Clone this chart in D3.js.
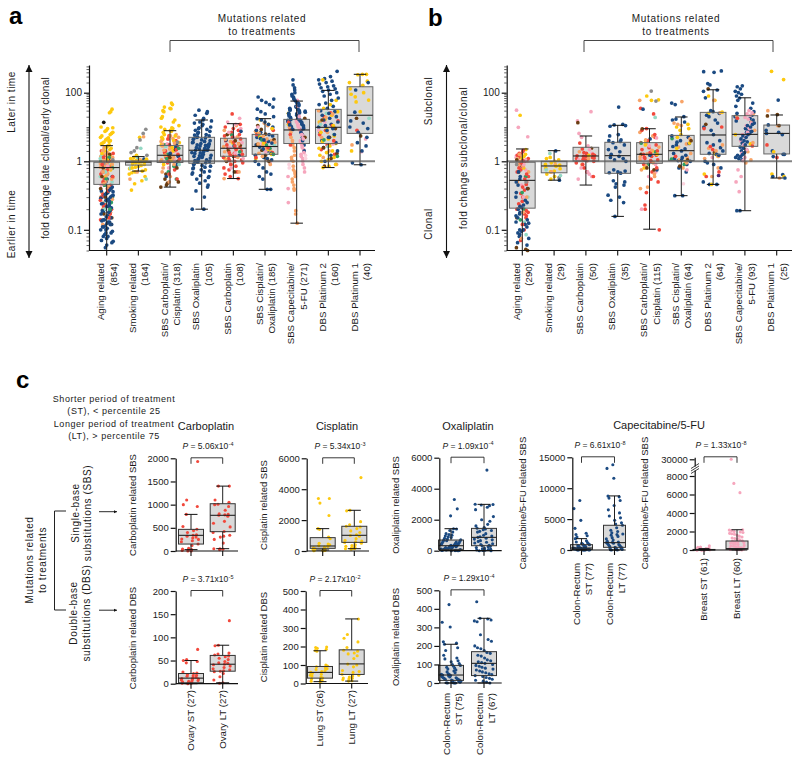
<!DOCTYPE html>
<html><head><meta charset="utf-8">
<script src="https://cdn.jsdelivr.net/npm/d3@7"></script>
<style>html,body{margin:0;background:#fff}svg{display:block;font-family:"Liberation Sans",Arial,sans-serif}</style>
</head><body><svg id="c" width="800" height="764"></svg>
<script>
const COLORS={navy:"#1b4a82",gold:"#fdc90f",red:"#f2483c",orange:"#f8a468",pink:"#f6a6bd",brown:"#6a3d12",green:"#2f9e62",teal:"#93d8c4",gray:"#8c8c8c",black:"#111",lpink:"#fbd3de",purple:"#4a2a7a"};

const aCats=[["Aging related","(854)"],["Smoking related","(164)"],["SBS Carboplatin/","Cisplatin (318)"],["SBS Oxaliplatin","(105)"],["SBS Carboplatin","(108)"],["SBS Cisplatin/","Oxaliplatin (185)"],["SBS Capecitabine/","5-FU (271)"],["DBS Platinum 2","(160)"],["DBS Platinum 1","(40)"]];
const bCats=[["Aging related","(290)"],["Smoking related","(29)"],["SBS Carboplatin","(50)"],["SBS Oxaliplatin","(35)"],["SBS Carboplatin/","Cisplatin (115)"],["SBS Cisplatin/","Oxaliplatin (64)"],["DBS Platinum 2","(64)"],["SBS Capecitabine/","5-FU (93)"],["DBS Platinum 1","(25)"]];
// low whisker, q1, median, q3, high whisker
const aBoxes=[[.05,.46,.81,.97,2.86],[.72,.88,.97,1,1.37],[.42,.96,1.5,2.9,7.8],[.2,.935,2.1,5,16],[.56,1.4,2.4,4.7,12.5],[.39,1.6,2.7,6.1,17.5],[.125,3.3,8.2,16.7,57],[.81,3.3,9.8,32.7,117],[.89,6.5,22,150,350]];
const bBoxes=[[.05,.207,.527,.97,2.29],[.53,.68,.855,1,2.04],[.45,1.02,1.43,2.56,5.47],[.157,.667,1.46,3.58,11.2],[.102,.935,1.6,3.5,8.9],[.315,1.05,2.04,5.7,19.6],[.46,1.6,5.85,26.7,122],[.19,2.73,6.1,21.4,71],[.57,1.64,6.5,11.4,22.4]];

const aPts0=[["navy",[.055,.06,.065,.068,.07,.075,.08,.08,.085,.09,.09,.095,.1,.1,.105,.11,.11,.115,.12,.12,.125,.13,.13,.135,.14,.14,.15,.15,.155,.16,.165,.17,.175,.18,.18,.19,.19,.2,.2,.21,.21,.22,.22,.23,.24,.24,.25,.25,.26,.27,.27,.28,.29,.3,.3,.31,.32,.33,.34,.35,.36,.37,.38,.4,.42,.45,.5,.55,.6]],["red",[.14,.15,.17,.2,.22,.24,.27,.3,.33,.37,.4,.45,.5,.55,.6,.65,.7,.75,.8,.85,.9,.95,1,1.1,1.2,1.3,1.5,1.7,2]],["orange",[.12,.15,.16,.18,.2,.25,.28,.3,.35,.4,.43,.47,.5,.52,.55,.58,.6,.63,.66,.7,.72,.75,.78,.8,.82,.85,.88,.9,.92,.95,.97,1,1.05,1.1,1.15,1.2,1.3,1.4,1.6,1.8,2.1,2.5]],["gold",[.6,.75,.9,1.1,1.3,1.5,1.7,1.9,2,2.2,2.4,2.6,2.8,3,3.2,3.4,3.6,3.8,4,4.2,4.5,4.8,5,5.5,6,6.5,7,7.5,8,9,9.5,10,26,28,33]],["teal",[.2,.26,.35,.5,.6,.7,.8,.9,1.2,1.5]],["green",[.2,.25,.3,.45,.55,.65,.8,1,1.3]],["brown",[.12,.15,.17,.3,.4,.6,.8,1.1,1.6]],["gray",[.4,.7,.9,1.1]],["pink",[.45,.7,.85,1.05,1.4,1.8]],["black",[13.7]]];
const aPts1=[["gold",[.38,.47,.52,.6,.65,.68,.7,.72,.75,.78,.8,.82,.85,.87,.9,.92,.95,.97,1,1,1.03,1.05,1.1,1.15,1.2,1.3,1.5,5]],["gray",[1.5,1.8,2,2.5,4.2,6.5,8.6]],["orange",[.55,.7,1.1,5.2]],["teal",[.55,.8,1.3,2.4]],["navy",[1.15]]];
const aPts2=[["gold",[50,45,38,35,34,30,28,16,18,20,14,11,10,9.5,9,8.5,8,7.5,7,6,5.5,5,4.5,4,3.5,3,2.5,2,1.5,1.2,1,.9]],["orange",[.5,.6,.7,.8,.9,1,1.1,1.2,1.3,1.5,1.7,1.9,2.1,2.3,2.5,2.8,3.1,3.4,3.8,4.2,4.6,5,5.5,6]],["red",[.55,.65,.75,.85,.95,1.05,1.15,1.3,1.45,1.6,1.8,2,2.2,2.5,3,3.5,4,4.5,5.5]],["brown",[.42,.45,.48,.5,.55,.65,.8,1,1.3,2.2]],["green",[.55,.7,.85,1,1.2,1.6,2.4,3]],["navy",[.6,.9,1.4,1.7,2.6,3.3]],["pink",[.8,1.1,1.9,3.2,4.4]],["teal",[.9,2.7]],["gray",[1.4,3.6]]];
const aPts3=[["navy",[.2,.2,.3,.37,.42,.45,.48,.52,.55,.58,.6,.62,.65,.68,.7,.72,.75,.78,.8,.82,.85,.87,.9,.92,.95,.97,1,1,1.05,1.1,1.15,1.2,1.25,1.3,1.35,1.4,1.45,1.5,1.55,1.6,1.7,1.75,1.8,1.9,2,2.1,2.1,2.2,2.3,2.4,2.5,2.6,2.7,2.8,2.9,3,3.1,3.2,3.3,3.5,3.6,3.8,4,4.2,4.4,4.6,4.8,5,5.2,5.5,5.8,6,6.5,7,7.5,8,8.5,9,9.5,10,11,12,13,14,15,16,18,22,25,28,31]]];
const aPts4=[["red",[.56,.6,.65,.7,.75,.8,.85,.9,.95,1,1.05,1.1,1.2,1.3,1.4,1.5,1.6,1.7,1.8,2,2.2,2.4,2.6,2.8,3,3.3,3.6,4,4.5,5,5.5,6,7,8,9,10,12,24]],["orange",[.56,.7,.9,1.1,1.3,1.6,1.9,2.3,2.7,3.2,3.8,4.4,5.2,6.5,8,11]],["pink",[.8,1.2,1.7,2.5,3.5,5,7,9,12,14,18]],["brown",[.7,1,1.4,2.1,3,4,6]],["navy",[1.5,2.8,4.2,7.5]],["gold",[3.4,1.2]],["green",[1.9,5.8]]];
const aPts5=[["navy",[.39,.39,.55,.6,.65,.7,.8,.9,1,1.1,1.2,1.3,1.5,1.7,2,2.3,2.6,3,3.4,3.8,4.2,4.6,5,5.5,6,7,8,10,12,14,16,17.5,20,24,28,33,38,45,52,60,75,65]],["orange",[.9,1.1,1.4,1.7,2,2.4,2.8,3.2,3.6,4,4.5,5.5,6.5,7.5,9,11,13]],["gold",[1.2,1.6,2.2,3.4,5,7,9,12,16]],["red",[1.3,1.8,2.5,3.6,4.8,6,8]],["brown",[1,1.5,2.1,3.1,4.3,6.2,8.5,11]],["green",[1.6,2.4,3,4.2,5.8]],["pink",[.95,1.9,3.3,10]],["teal",[2.9]]];
const aPts6=[["navy",[2,3,4,5,6,7,8,9,10,11,12,13,14,15,16,17,18,20,22,24,26,28,30,32,34,36,38,40,42,45,48,50,52,55,58,60,65,70,75,80,90,100,120,140,170,240,8.5,9.5,10.5,11.5,12.5,13.5,14.5,15.5,16.5,17.5,19,21,23,25,27,29,31,33,35]],["pink",[.25,.4,.6,.7,.8,.9,1,1.2,1.4,1.6,1.8,2,2.2,2.5,2.8,3.1,3.5,4,4.5,5,5.5,6,6.5,7,8,9,10,11,12,14,16,20,25,30,40,60]],["orange",[.125,.19,.17,.38,.4,.45,.5,.55,.6,.66,.7,.75,.85,1,1.1,1.3,1.5,2,2.5,3,3.3,4,5,7,10]],["lpink",[.8,.9,1.2,1.5]],["red",[3,6,9,14]],["gold",[12,25]],["brown",[5,18]]];
const aPts7=[["navy",[1,1.5,2,2.5,3,3.5,4,5,6,7,8,9,10,11,12,14,16,18,20,22,25,28,30,35,40,45,50,60,70,80,90,100,110,120,130,140,150,160,180,200,220,240,260,300,430]],["gold",[.81,.85,.9,1,1.1,1.3,1.5,1.8,2,2.4,2.8,3.3,3.8,4.5,5.5,7,9,11,14,17,22,28,35,45,60,240]],["red",[1.1,1.6,2.2,3,4,6,8,11,15,20,26]],["orange",[.9,1.3,2,3.5,5,7,10,13,19,24,30]],["brown",[.85,1.2,1.7,2.5,5,9,16]],["teal",[2.7,6,12,25]],["pink",[3.2,8,14,22]],["green",[1.4,4.2]]];
const aPts8=[["gold",[350,350,340,219,200,165,130,100,90,76,61,54,28,2]],["navy",[.89,.95,2,2.8,3.5,5,7,9,10,13,15,27,200,120]],["teal",[18]],["brown",[18,5.5]],["orange",[3]],["pink",[1.9,4.5]],["red",[8]]];

const bPts0=[["navy",[.06,.065,.075,.08,.085,.09,.095,.1,.1,.11,.12,.125,.13,.14,.15,.16,.17,.18,.2,.21,.22,.23,.25,.27,.3,.35,.4,.45,.5,.55,.6,.7,.85,1]],["red",[.07,.1,.12,.15,.16,.17,.18,.19,.2,.22,.24,.26,.3,.34,.38,.42,.46,.5,.55,.6,.65,.7,.75,.8,.85,.9,.95,1,1.05,1.1,1.15,1.2,1.3,1.4,1.5,1.6,1.7,1.9,2.1]],["orange",[.075,.12,.18,.3,.5,.7,.9,1,1.2,1.4,1.6,.85]],["pink",[.3,.45,.6,.75,.9,1,1.1,1.3,1.5,5.2,9.8,31]],["gold",[22,.8,1.2,1.6,2.2,1.4]],["brown",[.05,.052,.055,.15,.4,.7,1.1]],["green",[.14,.2,.35,.6]],["teal",[.085,.13,.3]],["gray",[.5,.9]]];
const bPts1=[["gold",[.55,.6,.65,.7,.72,.78,.8,.85,.88,.9,.95,1,1.1,1.2,1.3]],["teal",[.62,.75,1.7]],["navy",[2,.53]],["orange",[.7,.9]],["gray",[.58]]];
const bPts2=[["red",[.6,.7,.8,.9,.95,1,1.05,1.1,1.15,1.2,1.25,1.3,1.35,1.4,1.45,1.5,1.6,1.7,1.8,2.3,3.4]],["pink",[.55,.6,.65,.7,.8,1.1,1.7,2.2,2.8,5,6.5,15,28]],["orange",[1.2,.9,1.9]],["brown",[13.4,2.4]],["gold",[1.5]]];
const bPts3=[["navy",[.157,.25,.27,.3,.32,.42,.45,.47,.5,.52,.67,.68,.7,.72,.75,1,1.1,1.2,1.3,1.4,1.6,1.9,2.2,2.5,3,3.5,3.8,4,4.2,5.5,6,11,11.5,12,10.5,38]]];
const bPts4=[["red",[.1,.35,.55,.5,.2,.23,.7,.8,.9,1,1.05,1.1,1.2,1.3,1.4,1.5,1.6,1.7,1.8,2,2.2,2.5,3,3.5,4,5,6,8,9,24,35]],["orange",[.4,.42,.6,.65,.75,.85,.95,1.15,1.35,1.65,2.1,2.6,3.2,4.2,5.5,7,60]],["gold",[80,60,62,4,3,2,1.6,.8]],["gray",[112,57]],["navy",[33,4.5,1.5,.75]],["pink",[.2,.6,.7,.9,1.25,1.8,2.8,4.8]],["green",[3.4,.9,1.9]],["teal",[19]],["brown",[8.9,.8,.75,1.6]]];
const bPts5=[["navy",[.315,.315,.7,.8,.9,1,1.05,1.1,1.2,1.3,1.5,1.7,2,2.3,2.7,3,3.3,3.6,4,5,5.5,14,16,17,20,50,45]],["orange",[.8,.95,1.1,1.3,1.7,2.6,3.2,4.5,12,11,13,55]],["gold",[1,1.2,2.4,3.4,5,6,9,10,8,12]],["green",[1.15,.9,4.6]],["red",[1.4]],["lpink",[.47]],["pink",[.75]],["brown",[.85,1.1,4]]];
const bPts6=[["navy",[.46,.46,.5,.8,.9,.95,1,1.5,1.6,1.7,2,2.5,3,3.5,4,6,8,10,13,16,20,22,25,28,30,110,120,170,420,440,400,186,71]],["orange",[.8,.6,1.2,1.4,2,2.4,3,26,60]],["gold",[.46,.65,1.4,1.6,25,27,60,80]],["red",[.6,.7,2.2,2.7,9,10]],["brown",[1.8,130,12]],["purple",[.62]],["pink",[1.3]]];
const bPts7=[["navy",[.19,.19,1.1,1.2,1.3,1.4,1.5,1.6,1.8,2,2.2,2.4,2.6,3,3.4,3.7,4,4.5,5,5.5,6,6.5,7,7.5,8,9,10,11,12,13,14,15,16,18,20,22,25,28,35,40,50,60,70,80,90,100,110,130,150,160]],["pink",[.36,.5,.6,.75,1.05,1.3,1.7,2.2,3,4,5,6,7,9,11,13,17,19,22,24,26,30]],["orange",[.95,1.1,1.9,3.5,8,14,21,25]],["gold",[3.2,6]],["red",[2.8,18]]];
const bPts8=[["gold",[.6,.65,1.9,245,430]],["navy",[1.37,1.6,.57,.6,.64,1.6,2,6,7,6.5,11.5,61,8]],["orange",[30,11,.57]],["brown",[21,23,11]],["red",[3,1.3]]];
const aPoints=[aPts0,aPts1,aPts2,aPts3,aPts4,aPts5,aPts6,aPts7,aPts8];
const bPoints=[bPts0,bPts1,bPts2,bPts3,bPts4,bPts5,bPts6,bPts7,bPts8];

const carboSbsST=[1930,1100,1000,960,790,530,470,440,400,350,340,320,300,280,260,250,220,200,150,120,60,40,30,20,10,0,0];
const carboSbsLT=[1400,1400,1100,1050,1010,1000,960,880,800,790,780,770,750,640,600,520,420,400,340,320,300,250,170,50,50,40,30];
const carboDbsST=[74,52,50,48,45,25,23,22,20,18,17,16,14,12,11,10,9,8,7,6,5,4,3,2,1,1,0];
const carboDbsLT=[136,83,82,66,64,62,60,58,55,52,48,45,44,42,41,38,35,32,30,28,27,26,22,15,8,2,1];
const cisSbsST=[3400,3400,3100,2300,1447,1400,900,800,500,450,400,350,300,250,200,150,120,100,80,65,60,50,40,30,20,10];
const cisSbsLT=[4750,2640,2600,1900,1700,1600,1550,1450,1300,1200,1050,1000,950,800,700,650,600,550,500,400,350,300,250,200,150,150,120];
const cisDbsST=[197,195,190,185,178,175,100,95,90,85,80,75,70,65,60,55,50,45,40,35,30,25,20,15,12,10];
const cisDbsLT=[349,265,245,225,195,180,175,165,160,150,135,105,100,90,70,65,60,50,45,40,35,30,28,25,20,15,13];
const oxSbsST=[3300,2700,2250,1420,1400,1300,1200,1100,1050,1000,950,900,850,800,750,700,680,650,620,600,560,520,500,470,450,420,400,380,350,330,320,300,280,260,240,220,200,180,160,140,120,100,90,80,70,60,50,40,30,20,15,10,5,0,0];
const oxSbsLT=[5200,3000,2980,2950,2900,2800,2650,2200,2000,1900,1700,1600,1500,1450,1400,1350,1300,1250,1200,1100,1000,950,900,860,800,750,700,650,600,550,500,450,400,350,320,280,250,200,150,120,100,80,50,30,10,0,0];
const oxDbsST=[423,328,302,222,215,209,190,175,150,135,130,120,115,105,100,95,90,85,80,75,70,65,60,55,50,47,45,43,40,38,35,32,30,28,25,22,20,18,16,14,12,10,8,6,4,2,1,0,0,0];
const oxDbsLT=[438,349,345,340,335,330,260,235,225,200,190,185,175,165,160,150,145,135,125,120,115,110,106,100,95,90,85,80,75,70,65,60,55,50,45,40,35,30,25,20,15,10,5,0];
const capeST=[8000,6700,4800,3500,2700,2500,2300,2100,1836,1500,1300,1200,1100,1000,950,864,800,700,650,600,550,500,450,400,350,324,300,280,260,240,220,200,180,160,140,120,108,90,80,70,60,50,40,30,20,15,10,5,0,0];
const capeLT=[13800,13200,11600,8750,8600,8400,8000,7200,6500,6000,5500,5200,4800,4400,4200,4000,3600,3200,3000,2800,2600,2500,2400,2200,2000,1800,1600,1400,1300,1250,1190,1100,1000,900,800,700,600,500,432,350,300,250,200,150,100,80,50,20,0];
const breastST=[450,320,280,250,200,180,160,150,120,100,80,70,60,50,40,30,30,25,20,20,15,10,10,5,5,0,0];
const breastLT=[30000,7200,6200,2190,2150,2100,2000,1950,1900,1800,1750,1700,1600,1500,1400,1300,1250,1200,1100,1000,950,900,850,800,750,700,650,600,500,450,400,350,300,250,200,180,150,120,100,80,60,40,20,0];

const logMajor=[.1,1,100];
const logMinor=[.05,.06,.07,.08,.09,.2,.3,.4,.5,.6,.7,.8,.9,2,3,4,5,6,7,8,9,10,20,30,40,50,60,70,80,90,200,300,400,500,600];

const svg=d3.select("#c");
const INK="#1a1a1a";
function text(x,y,s,o={}){
  const t=svg.append("text").attr("x",x).attr("y",y).text(s)
    .attr("font-size",o.size||10).attr("fill",o.fill||INK).attr("text-anchor",o.anchor||"middle");
  if(o.rot!==undefined)t.attr("transform",`rotate(${o.rot},${x},${y})`);
  if(o.ls)t.attr("letter-spacing",o.ls);
  if(o.bold)t.attr("font-weight","bold");
  return t;
}
function poly(pts,w=1,c="#222"){
  svg.append("path").attr("d",d3.line()(pts)).attr("fill","none").attr("stroke",c).attr("stroke-width",w);
}
function arrow(x1,y1,x2,y2,size=6,w=1.1){
  poly([[x1,y1],[x2,y2]],w,"#111");
  const a=Math.atan2(y2-y1,x2-x1),s=size;
  const p=[[x2,y2],[x2-s*Math.cos(a)+s*.5*Math.sin(a),y2-s*Math.sin(a)-s*.5*Math.cos(a)],[x2-s*Math.cos(a)-s*.5*Math.sin(a),y2-s*Math.sin(a)+s*.5*Math.cos(a)]];
  svg.append("path").attr("d",d3.line()(p)+"Z").attr("fill","#111");
}
function drawBoxes(x,y,cats,boxes,points,o){
  const g=svg.append("g");
  const bw=o.bw,cap=o.cap;
  // box fill below the dots
  cats.forEach((c,i)=>{const [lo,q1,m,q3,hi]=boxes[i];
    g.append("rect").attr("x",x(c)-bw/2).attr("y",y(q3)).attr("width",bw).attr("height",Math.max(y(q1)-y(q3),.5)).attr("fill","#d9d9d9");
  });
  cats.forEach((c,i)=>{
    const flat=[];
    points[i].forEach(([col,vals])=>vals.forEach(v=>flat.push({col,v})));
    flat.forEach((d,k)=>{d.key=((k+1)*0.6180339887)%1;});
    flat.sort((a,b)=>a.key-b.key);
    // jitter comes from a fixed low-discrepancy sequence, not the data
    const w=o.jit[i]!==undefined?o.jit[i]:o.jit;
    g.selectAll(null).data(flat).join("circle")
      .attr("cx",(d,k)=>x(c)+(((k+1)*0.7548776662)%1-.5)*2*w)
      .attr("cy",d=>y(d.v)).attr("r",o.r)
      .attr("fill",d=>COLORS[o.color||d.col]);
  });
  cats.forEach((c,i)=>{const [lo,q1,m,q3,hi]=boxes[i];
    const X=x(c);
    g.append("rect").attr("x",X-bw/2).attr("y",y(q3)).attr("width",bw).attr("height",Math.max(y(q1)-y(q3),.5)).attr("fill","none").attr("stroke",o.boxStroke).attr("stroke-width",1);
    g.append("line").attr("x1",X-bw/2).attr("x2",X+bw/2).attr("y1",y(m)).attr("y2",y(m)).attr("stroke","#222").attr("stroke-width",1.1);
    [[lo,q1],[q3,hi]].forEach(([a,b])=>g.append("line").attr("x1",X).attr("x2",X).attr("y1",y(a)).attr("y2",y(b)).attr("stroke","#222").attr("stroke-width",1));
    [lo,hi].forEach(v=>g.append("line").attr("x1",X-cap/2).attr("x2",X+cap/2).attr("y1",y(v)).attr("y2",y(v)).attr("stroke","#111").attr("stroke-width",1));
  });
}
function leftAxis(x0,y,major,minor,fs,fmt){
  if(minor){
    svg.append("g").attr("transform",`translate(${x0},0)`).call(d3.axisLeft(y).tickValues(minor).tickSize(2.5).tickFormat("")).call(g=>{g.select(".domain").remove();g.selectAll("line").attr("stroke","#222").attr("stroke-width",.7);});
  }
  svg.append("g").attr("transform",`translate(${x0},0)`)
    .call(d3.axisLeft(y).tickValues(major).tickSizeInner(5).tickSizeOuter(0).tickPadding(2).tickFormat(fmt||(d=>String(d))))
    .call(g=>{g.selectAll("path,line").attr("stroke","#111").attr("stroke-width",1.2);
      g.selectAll("text").attr("font-size",fs).attr("font-family",null).attr("fill",INK);});
}
function bottomLine(x,x0,x1,yb,cats){
  poly([[x0,yb],[x1,yb]],1.2,"#111");
  cats.forEach(c=>poly([[x(c),yb],[x(c),yb+5]],1.1,"#111"));
}

// ---------- panels a, b ----------
function logPanel(P){
  const keys=P.cats.map(c=>c.join(" "));
  const x=d3.scalePoint().domain(keys).range(P.xr);
  const y=d3.scaleLog().domain([.05,.1,1,100,660]).range([250.5,229.8,161.3,92.7,65]);
  drawBoxes(x,y,keys,P.boxes,P.points,{bw:25.7,cap:12.5,r:1.85,jit:P.jit,boxStroke:"#666"});
  poly([[P.x0,y(1)],[P.x1,y(1)]],2,"rgba(90,90,90,.75)");
  leftAxis(P.x0,y,logMajor,logMinor,10);
  bottomLine(x,P.x0,P.x1,250.5,keys);
  keys.forEach((k,i)=>{
    text(x(k)-2.5,263,P.cats[i][0],{rot:-90,anchor:"end",size:9.7});
    text(x(k)+10,263,P.cats[i][1],{rot:-90,anchor:"end",size:9.7});
  });
}
logPanel({cats:aCats,boxes:aBoxes,points:aPoints,xr:[106.7,360],x0:89,x1:375,jit:[6.5,9.5,9.5,10,10,10,9,10,11]});
logPanel({cats:bCats,boxes:bBoxes,points:bPoints,xr:[522.3,776.7],x0:506.7,x1:792,jit:[6.5,9,10,10,10,10,10,10,11]});

text(9,24,"a",{anchor:"start",size:24,bold:true,fill:"#000"});
text(428,26,"b",{anchor:"start",size:24,bold:true,fill:"#000"});
text(16,388,"c",{anchor:"start",size:24,bold:true,fill:"#000"});

[[262,[170,359]],[676,[584,773]]].forEach(([cx,[l,r]])=>{
  text(cx,22,"Mutations related",{ls:.7});
  text(cx,35,"to treatments",{ls:.7});
  poly([[l,52],[l,40.5],[r,40.5],[r,52]],.9,"#333");
});
arrow(29,160,29,65,7);arrow(29,160,29,258,7);
arrow(446.5,160,446.5,65,7);arrow(446.5,160,446.5,258,7);
text(15,102,"Later in time",{rot:-90,ls:.5});
text(15,224,"Earlier in time",{rot:-90,ls:.5});
text(49,158,"fold change late clonal/early clonal",{rot:-90,ls:.25});
text(432,101,"Subclonal",{rot:-90,ls:.5});
text(432,224,"Clonal",{rot:-90,ls:.5});
text(467,158,"fold change subclonal/clonal",{rot:-90,ls:.6});

// ---------- panel c ----------
["Shorter period of treatment|399","(ST), < percentile 25|411","Longer period of treatment|424","(LT), > percentile 75|436"].forEach(s=>{
  const [t,yy]=s.split("|");text(114,+yy+3,t,{size:9,ls:.55});
});
text(206,430,"Carboplatin",{size:11});
text(337,430,"Cisplatin",{size:11});
text(468,430,"Oxaliplatin",{size:11});
text(659,429,"Capecitabine/5-FU",{size:11});

function pval(cx,yy,v,e){
  const t=text(cx,yy,"",{size:8.5});
  t.append("tspan").attr("font-style","italic").text("P");
  t.append("tspan").text(" = "+v+"x10");
  t.append("tspan").attr("dy",-3.5).attr("font-size",5.5).attr("dx",.5).text(e);
}
function cPanel(P){
  const x=d3.scalePoint().domain(P.cats).range(P.xr);
  drawBoxes(x,P.y,P.cats,P.boxes,P.points,{bw:P.bw||25,cap:P.cap||13,r:1.55,jit:P.jit||10,boxStroke:"#333",color:P.color});
  leftAxis(P.x0,P.y,P.ticks,null,9.5,P.fmt);
  const yb=P.y.range()[0];
  bottomLine(x,P.x0,P.x1,yb,P.cats);
  const t=P.y.range()[P.y.range().length-1];
  poly([[P.xr[0],t+5.5],[P.xr[0],t-.5],[P.xr[1],t-.5],[P.xr[1],t+5.5]],.9,"#222");
  pval(P.pc,t-9,P.p[0],P.p[1]);
  text(P.tx,P.tc,P.title,{rot:-90,size:9.5});
  if(P.labels) P.labels.forEach((l,i)=>l.forEach((s,j)=>{
    text(x(P.cats[i])+P.lb[j],P.ltop,s,{rot:-90,anchor:"end",size:9.7});
  }));
}
const groupsCarbo=["ST","LT"];
cPanel({cats:groupsCarbo,xr:[191,222.7],x0:175.7,x1:238,y:d3.scaleLinear().domain([0,2000]).range([551,458.3]),ticks:[0,500,1000,1500,2000],
  boxes:[[30,150,338,467,790],[50,417,770,1020,1400]],points:[[["red",carboSbsST]],[["red",carboSbsLT]]],p:["5.06","-4"],pc:208,tx:136,tc:505,title:"Carboplatin related SBS"});
cPanel({cats:groupsCarbo,xr:[191,222.7],x0:175.7,x1:238,y:d3.scaleLinear().domain([0,200]).range([683.7,591]),ticks:[0,50,100,150,200],
  boxes:[[0,2,12,22,50],[2,27,42,61,83]],points:[[["red",carboDbsST]],[["red",carboDbsLT]]],p:["3.71","-5"],pc:208,tx:136,tc:638,title:"Carboplatin related DBS",
  labels:[["Ovary  ST (27)"],["Ovary  LT (27)"]],lb:[3],ltop:690});
cPanel({cats:groupsCarbo,xr:[322.7,354.3],x0:306.7,x1:369,y:d3.scaleLinear().domain([0,6000]).range([551,458.3]),ticks:[0,2000,4000,6000],
  boxes:[[65,173,324,864,1447],[150,560,1015,1600,2635]],points:[[["gold",cisSbsST]],[["gold",cisSbsLT]]],p:["5.34","-3"],pc:340,tx:267,tc:505,title:"Cisplatin related SBS"});
cPanel({cats:groupsCarbo,xr:[320,351.7],x0:305.7,x1:368,y:d3.scaleLinear().domain([0,500]).range([683.5,591]),ticks:[0,100,200,300,400,500],
  boxes:[[10,29,60,92,177],[13,49,106,182,349]],points:[[["gold",cisDbsST]],[["gold",cisDbsLT]]],p:["2.17","-2"],pc:335,tx:267,tc:637,title:"Cisplatin related DBS",
  labels:[["Lung ST (26)"],["Lung LT (27)"]],lb:[3],ltop:690});
cPanel({cats:groupsCarbo,xr:[451,484],x0:439.3,x1:501.7,y:d3.scaleLinear().domain([0,6000]).range([550.7,457.7]),ticks:[0,2000,4000,6000],
  boxes:[[0,86,322,688,1420],[0,322,860,1440,2990]],points:[[["navy",oxSbsST]],[["navy",oxSbsLT]]],p:["1.09","-4"],pc:468,tx:399,tc:505,title:"Oxaliplatin related SBS",jit:10});
cPanel({cats:groupsCarbo,xr:[451,484],x0:439.3,x1:501.7,y:d3.scaleLinear().domain([0,500]).range([683,590.3]),ticks:[0,100,200,300,400,500],
  boxes:[[0,14,43,95,209],[0,40,106,169,349]],points:[[["navy",oxDbsST]],[["navy",oxDbsLT]]],p:["1.29","-4"],pc:469,tx:399,tc:637,title:"Oxaliplatin related DBS",jit:10,
  labels:[["Colon-Rectum","ST (75)"],["Colon-Rectum","LT (67)"]],lb:[-1.5,11],ltop:693});
cPanel({cats:groupsCarbo,xr:[581.5,614.5],x0:572.3,x1:625.7,y:d3.scaleLinear().domain([0,15000]).range([550,457.3]),ticks:[0,5000,10000,15000],
  boxes:[[0,108,324,864,1836],[0,432,1190,4000,8750]],points:[[["navy",capeST]],[["navy",capeLT]]],p:["6.61","-8"],pc:600,tx:526,tc:503,title:"Capecitabine/5-FU related SBS",bw:22,cap:11,jit:8.5,
  labels:[["Colon-Rectum","ST (77)"],["Colon-Rectum","LT (77)"]],lb:[-1.5,10],ltop:563});

// breast panel with broken axis
const yBreast=d3.scaleLinear().domain([0,8000,8700,30000,31000]).range([550,476,469,459.3,457.3]);
cPanel({cats:groupsCarbo,xr:[704,737],x0:694.7,x1:747.3,y:yBreast,ticks:[0,2000,4000,6000,8000,30000],
  boxes:[[0,0,30,60,150],[0,80,150,973,2190]],points:[[["pink",breastST]],[["pink",breastLT]]],p:["1.33","-8"],pc:721,tx:648,tc:503,title:"Capecitabine/5-FU related SBS",bw:22,cap:11,jit:8,
  labels:[["Breast ST (61)"],["Breast LT (60)"]],lb:[3],ltop:558});
svg.append("rect").attr("x",692).attr("y",466.5).attr("width",6).attr("height",4).attr("fill","#fff");
[[466.5],[469],[471.5]].forEach(([yy])=>poly([[691,yy+2],[699,yy-3]],.8,"#111"));

// left-hand annotation
text(33,560,"Mutations  related",{rot:-90,ls:.6});
text(46,560,"to treatments",{rot:-90,ls:.6});
poly([[66,511],[54.5,511],[54.5,610],[66,610]],1,"#222");
arrow(99,511.7,117,511.7,3,.9);
arrow(99,610.2,117,610.2,3,.9);
text(79,513,"Single-base",{rot:-90,ls:.6});
text(91,513,"substitutions (SBS)",{rot:-90,ls:.6});
text(77,613,"Double-base",{rot:-90,ls:.6});
text(90,613,"substitutions (DBS)",{rot:-90,ls:.6});
</script></body></html>
